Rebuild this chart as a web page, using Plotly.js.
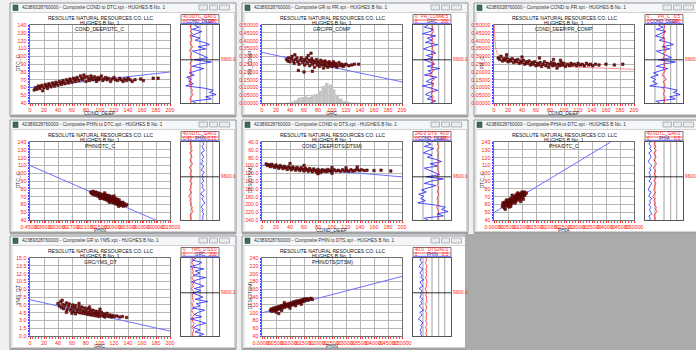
<!DOCTYPE html>
<html><head><meta charset="utf-8">
<script src="https://cdn.plot.ly/plotly-3.0.1.min.js"></script>
<style>html,body{margin:0;padding:0;background:#f0f0f0;overflow:hidden}#chart{width:696px;height:350px}</style>
</head><body><div id="chart"></div>
<script>
// ---------------- DATA ----------------
const DEPTH = [9520,9525,9530,9535,9540,9545,9550,9555,9560,9565,9570,9575,9580,9585,9590,9595,9600,9605,9610,9615,9620,9625,9630,9635,9640,9645,9650,9655,9660,9665,9670,9675,9680,9685,9690,9695,9700];
const LOG_COND_DEEP = [70,95,60,110,80,55,100,75,120,150,90,130,60,85,110,140,70,160,95,60,120,80,45,70,30,55,40,65,25,120,170,150,185,130,160,60,80];
const LOG_DTC_C = [66,64,68,65,70,63,67,69,64,66,71,65,62,68,66,64,70,67,63,69,65,66,62,68,64,60,66,63,67,65,70,68,72,66,64,67,65];
const LOG_GRC = [80,60,110,90,50,120,75,100,65,130,85,55,95,120,70,105,60,90,115,75,140,80,100,60,125,90,70,110,50,95,130,85,65,100,75,120,90];
const LOG_PR = [0.25,0.26,0.24,0.27,0.25,0.23,0.26,0.25,0.27,0.24,0.26,0.25,0.28,0.24,0.26,0.25,0.23,0.27,0.25,0.26,0.24,0.27,0.25,0.22,0.26,0.28,0.24,0.25,0.27,0.23,0.26,0.25,0.24,0.27,0.25,0.26,0.24];
const LOG_PHIN = [0.11,0.09,0.12,0.10,0.08,0.13,0.11,0.09,0.12,0.10,0.14,0.09,0.11,0.13,0.08,0.12,0.10,0.11,0.09,0.13,0.10,0.12,0.08,0.11,0.14,0.09,0.12,0.10,0.07,0.11,0.13,0.10,0.12,0.09,0.11,0.10,0.12];
const LOG_PHIA = [0.07,0.05,0.08,0.06,0.09,0.05,0.07,0.08,0.06,0.04,0.07,0.09,0.06,0.08,0.05,0.07,0.06,0.08,0.05,0.09,0.07,0.06,0.04,0.08,0.07,0.05,0.09,0.06,0.07,0.05,0.08,0.06,0.07,0.09,0.05,0.07,0.06];
const LOG_DTS = [108,112,105,110,114,107,111,109,113,106,110,115,108,112,104,110,113,107,111,109,114,106,110,112,105,109,113,108,111,107,115,110,106,112,109,108,111];
const LOG_YMS = [4.5,5.0,4.2,4.8,5.3,4.4,4.9,4.6,5.1,4.3,4.7,5.5,4.5,4.9,4.1,4.8,5.2,4.4,4.7,4.6,5.0,4.3,4.8,5.1,4.2,4.6,5.4,4.5,4.9,4.4,5.2,4.7,4.3,5.0,4.6,4.5,4.8];

const W1_COND = [6,8,10,12,14,15,17,18,20,22,24,25,27,28,30,32,34,35,37,38,40,42,44,45,47,48,50,52,54,55,57,58,60,62,64,65,67,68,70,72,74,75,77,78,80,82,84,85,87,88,90,92,94,95,97,98,100,102,104,105,108,110,112,115,117,120,122,125,128,130,133,135,138,140,143,146,150,158,162,176,183];
const W1_DTC = [57,60,58,62,59,61,63,56,60,64,62,59,65,63,61,66,64,62,67,65,63,68,66,64,69,67,65,70,68,66,71,69,67,72,70,68,73,71,69,75,72,70,76,73,68,74,71,69,75,72,70,74,71,68,73,70,72,75,69,71,73,70,72,68,71,73,70,69,72,70,68,71,69,72,70,68,70,71,69,72,72];
const W1_FIT_X = [0,200], W1_FIT_Y = [60,80];

const W2_GR = [35,37,38,40,42,43,45,46,48,50,51,53,55,56,58,60,61,62,64,65,67,68,70,71,72,74,75,76,78,79,80,82,83,84,86,87,88,89,90,91,92,94,95,96,97,98,100,101,102,104,105,107,108,110,112,114,116,118,120,124,128,132,138,52,60,72,47,66,70];
const W2_PR = [0.28,0.27,0.29,0.265,0.285,0.30,0.27,0.255,0.28,0.29,0.265,0.25,0.275,0.29,0.26,0.28,0.245,0.27,0.29,0.255,0.275,0.24,0.265,0.285,0.25,0.27,0.23,0.26,0.28,0.245,0.265,0.235,0.255,0.275,0.245,0.265,0.225,0.25,0.27,0.24,0.26,0.23,0.25,0.265,0.24,0.255,0.235,0.25,0.265,0.24,0.255,0.23,0.245,0.26,0.24,0.25,0.235,0.245,0.25,0.24,0.245,0.25,0.25,0.21,0.20,0.205,0.31,0.305,0.32];
const W2_FIT_X = [0,200], W2_FIT_Y = [0.325,0.137];
const W2_HIST_GR = [37.5,42.5,47.5,52.5,57.5,62.5,67.5,72.5,77.5,82.5,87.5,92.5,97.5,102.5,107.5,112.5,117.5,122.5,127.5,132.5];
const W2_HIST_FREQ = [0.005,0.01,0.02,0.035,0.04,0.045,0.04,0.055,0.06,0.08,0.11,0.13,0.12,0.09,0.055,0.03,0.015,0.01,0.005,0.003];

const W3_COND = [6,8,10,12,14,16,18,20,22,24,26,28,30,32,34,36,38,40,42,44,46,48,50,52,54,56,58,60,62,64,66,68,70,72,74,76,78,80,82,84,86,88,90,92,94,96,98,100,102,105,108,110,112,115,118,120,123,126,129,132,135,138,141,145,150,160,172,184,65,85,40,95,18];
const W3_PR = [0.29,0.28,0.30,0.27,0.285,0.275,0.29,0.265,0.28,0.27,0.285,0.26,0.275,0.265,0.28,0.255,0.27,0.26,0.275,0.25,0.265,0.255,0.27,0.245,0.26,0.25,0.265,0.24,0.255,0.245,0.26,0.235,0.25,0.265,0.24,0.255,0.23,0.25,0.26,0.24,0.255,0.245,0.225,0.25,0.24,0.26,0.245,0.255,0.235,0.25,0.24,0.255,0.245,0.25,0.24,0.255,0.245,0.25,0.24,0.255,0.245,0.25,0.24,0.25,0.245,0.25,0.245,0.25,0.29,0.28,0.295,0.275,0.31];
const W3_FIT_X = [0.3,1,2,3,5,8,10,15,20,30,40,60,80,100,120,140,160,180,200];
const W3_FIT_Y = [0.50,0.42,0.37,0.34,0.315,0.30,0.29,0.28,0.272,0.262,0.255,0.246,0.24,0.235,0.231,0.227,0.223,0.22,0.217];

const W4_PHIN = [0.19,0.185,0.18,0.178,0.175,0.17,0.168,0.165,0.16,0.158,0.155,0.152,0.15,0.147,0.145,0.142,0.14,0.138,0.135,0.133,0.13,0.128,0.126,0.124,0.122,0.12,0.118,0.116,0.114,0.112,0.11,0.108,0.106,0.104,0.102,0.1,0.098,0.096,0.094,0.092,0.09,0.088,0.086,0.084,0.082,0.08,0.078,0.076,0.074,0.072,0.07,0.068,0.065,0.062,0.06,0.057,0.055,0.052,0.05,0.045,0.04,0.035,0.15,0.13,0.11,0.09,0.07];
const W4_DTC = [76,74,77,73,75,72,76,74,71,75,73,70,74,72,69,73,71,68,72,70,67,73,69,71,66,70,68,72,65,69,67,71,64,68,66,70,63,67,65,69,62,66,64,68,61,65,63,67,60,64,62,66,61,63,59,62,60,63,58,61,59,60,68,75,63,71,58];
const W4_FIT_X = [0.45,-0.09], W4_FIT_Y = [110,40];

const W5_COND = [6,8,10,12,14,16,18,20,22,24,26,28,30,32,34,36,38,40,42,44,46,48,50,52,54,56,58,60,62,64,66,68,70,72,74,76,78,80,82,84,86,88,90,92,94,96,98,100,103,106,109,112,115,118,121,124,127,130,133,136,139,142,146,150,160,170,184,40,60,100,120,136,80,100];
const W5_DTS = [96,100,98,103,97,101,105,99,103,107,100,104,108,102,106,110,103,107,111,104,108,112,105,109,113,106,110,114,107,111,115,108,112,116,109,113,117,110,114,118,111,115,112,116,110,114,112,115,111,114,112,115,111,114,112,115,111,114,112,110,113,111,113,112,113,112,114,95,100,105,106,104,121,120];
const W5_FIT_X = [0,200], W5_FIT_Y = [99,129];

const W6_PHIA = [0.03,0.032,0.034,0.036,0.038,0.04,0.042,0.044,0.046,0.048,0.05,0.052,0.054,0.056,0.058,0.06,0.062,0.064,0.066,0.068,0.07,0.072,0.074,0.076,0.078,0.08,0.082,0.084,0.086,0.088,0.09,0.092,0.094,0.096,0.098,0.1,0.102,0.104,0.106,0.108,0.11,0.112,0.115,0.045,0.055,0.065,0.075,0.085,0.095,0.105,0.04,0.06,0.08,0.1];
const W6_DTC = [58,62,60,56,63,59,61,65,58,62,64,60,66,62,64,68,61,65,67,63,69,65,67,71,64,68,70,66,72,68,70,74,67,71,73,69,75,71,73,76,72,74,75,66,57,72,62,75,64,67,54,58,73,76];
const W6_FIT_X = [0,0.417], W6_FIT_Y = [50,140];

const W7_GR = [40,42,44,45,47,48,50,52,53,55,56,58,60,61,62,64,65,67,68,70,71,72,74,75,76,78,79,80,82,83,84,86,87,88,90,91,92,94,95,96,98,99,100,102,104,105,107,108,110,112,114,116,118,120,124,128,132,138,46,52,60,70,85,100,65];
const W7_YMS = [6.3,5.8,6.6,5.5,6.1,5.3,5.9,6.4,5.1,5.7,6.2,5.0,5.5,6.0,4.8,5.4,5.9,4.7,5.2,5.7,4.5,5.1,5.6,4.4,4.9,5.4,4.3,4.8,5.3,4.2,4.6,5.1,4.1,4.5,5.0,4.0,4.4,4.8,3.9,4.3,4.7,3.8,4.2,4.6,3.9,4.3,3.7,4.1,4.4,3.8,4.1,3.7,4.0,3.8,3.9,3.7,3.8,3.6,6.9,4.6,4.4,6.3,5.6,5.2,4.3];
const W7_FIT_X = [0,200], W7_FIT_Y = [7.0,1.0];

const W8_PHIN = [0.03,0.033,0.036,0.039,0.042,0.045,0.048,0.051,0.054,0.057,0.06,0.063,0.066,0.069,0.072,0.075,0.078,0.081,0.084,0.087,0.09,0.093,0.096,0.099,0.102,0.105,0.108,0.111,0.114,0.117,0.12,0.123,0.126,0.129,0.132,0.135,0.138,0.141,0.144,0.147,0.15,0.153,0.156,0.16,0.165,0.17,0.175,0.18,0.05,0.07,0.1,0.12,0.14,0.08,0.06];
const W8_DTS = [106,110,104,108,112,106,110,114,108,112,116,110,114,118,112,116,120,114,118,122,116,120,124,118,122,126,120,124,128,122,126,130,124,128,131,126,130,133,128,132,135,130,134,136,132,135,137,134,102,106,112,118,122,126,98];
const W8_FIT_X = [0,0.5], W8_FIT_Y = [100,193];

// tick labels
const T_0_200 = [0,20,40,60,80,100,120,140,160,180,200];
const T_0_200_TXT = ["0","20","40","60","80","100","120","140","160","180","200"];
const T_DT = [40,50,60,70,80,90,100,110,120,130,140];
const T_DT_TXT = ["40","50","60","70","80","90","100","110","120","130","140"];
const T_PR = [0,0.05,0.1,0.15,0.2,0.25,0.3,0.35,0.4,0.45,0.5];
const T_PR_TXT = ["0.00000","0.05000","0.10000","0.15000","0.20000","0.25000","0.30000","0.35000","0.40000","0.45000","0.50000"];
const T_PHIN = [0.45,0.39,0.33,0.27,0.21,0.15,0.09,0.03,-0.03,-0.09,-0.15];
const T_PHIN_TXT = ["0.45000","0.39000","0.33000","0.27000","0.21000","0.15000","0.09000","0.03000","-0.03000","-0.09000","-0.15000"];
const T_POR = [0,0.05,0.1,0.15,0.2,0.25,0.3,0.35,0.4,0.45,0.5];
const T_POR_TXT = ["0.00000","0.05000","0.10000","0.15000","0.20000","0.25000","0.30000","0.35000","0.40000","0.45000","0.50000"];
const T_DTS = [40,60,80,100,120,140,160,180,200,220,240];
const T_DTS_TXT1 = ["40.0","60.0","80.0","100.0","120.0","140.0","160.0","180.0","200.0","220.0","240.0"];
const T_DTS_TXT2 = ["40","60","80","100","120","140","160","180","200","220","240"];
const T_YMS = [0,1.5,3,4.5,6,7.5,9,10.5,12,13.5,15];
const T_YMS_TXT = ["0.0","1.5","3.0","4.5","6.0","7.5","9.0","10.5","12.0","13.5","15.0"];

// ---------------- LAYOUT / STYLE CONFIG ----------------
const WIDTH = 696, HEIGHT = 350;
const COLS = [0,232,464], ROWS = [0,117,233];
const FONT = '"Liberation Sans", Arial, sans-serif';
const px = x => x / WIDTH;
const py = y => 1 - y / HEIGHT;

const WINDOWS = [
 {col:0,row:0,title:'42389328760000 - Composite COND to DTC.xpt - HUGHES B No. 1',sub:'COND_DEEP/DTC_C',xt:'COND_DEEP',yt:'DTC_C',
  x:W1_COND,y:W1_DTC,fx:W1_FIT_X,fy:W1_FIT_Y,fitColor:'#6f6fff',
  xr:[0,200],xv:T_0_200,xl:T_0_200_TXT,xm:4,yr:[40,140],yv:T_DT,yl:T_DT_TXT,ym:2,
  blue:{v:LOG_COND_DEEP,r:[0,200],h:['0','COND_DEEP','200']},red:{v:LOG_DTC_C,r:[40,140],h:['40.0','DTC_C','140.0']}},
 {col:1,row:0,title:'42389328760000 - Composite GR to PR.xpt - HUGHES B No. 1',sub:'GRC/PR_COMP',xt:'GRC',yt:'PR_COMP',
  x:W2_GR,y:W2_PR,fx:W2_FIT_X,fy:W2_FIT_Y,fitColor:'#6f6fff',hist:true,
  xr:[0,200],xv:T_0_200,xl:T_0_200_TXT,xm:4,yr:[0,0.5],yv:T_PR,yl:T_PR_TXT,ym:0.01,
  blue:{v:LOG_GRC,r:[0,200],h:['0','GRC','200']},red:{v:LOG_PR,r:[0,0.5],h:['0','PR_COMP','0.5']}},
 {col:2,row:0,title:'42389328760000 - Composite COND to PR.xpt - HUGHES B No. 1',sub:'COND_DEEP/PR_COMP',xt:'COND_DEEP',yt:'PR_C',
  x:W3_COND,y:W3_PR,fx:W3_FIT_X,fy:W3_FIT_Y,fitColor:'#ff8c8c',
  xr:[0,200],xv:T_0_200,xl:T_0_200_TXT,xm:4,yr:[0,0.5],yv:T_PR,yl:T_PR_TXT,ym:0.01,
  blue:{v:LOG_COND_DEEP,r:[0,200],h:['0','COND_DEEP','200']},red:{v:LOG_PR,r:[0,0.5],h:['0','PR_C','0.5']}},
 {col:0,row:1,title:'42389328760000 - Composite PHIN to DTC.xpt - HUGHES B No. 1',sub:'PHIN/DTC_C',xt:'PHIN',yt:'DTC_C',
  x:W4_PHIN,y:W4_DTC,fx:W4_FIT_X,fy:W4_FIT_Y,fitColor:'#6f6fff',
  xr:[0.45,-0.15],xv:T_PHIN,xl:T_PHIN_TXT,xm:0.012,yr:[40,140],yv:T_DT,yl:T_DT_TXT,ym:2,
  blue:{v:LOG_PHIN,r:[0.45,-0.15],h:['0.45','PHIN','-0.15']},red:{v:LOG_DTC_C,r:[40,140],h:['40.0','DTC_C','140.0']}},
 {col:1,row:1,title:'42389328760000 - Composite COND to DTS.xpt - HUGHES B No. 1',sub:'COND_DEEP/DTS(DTSM)',xt:'COND_DEEP',yt:'DTS(DTSM)',
  x:W5_COND,y:W5_DTS,fx:W5_FIT_X,fy:W5_FIT_Y,fitColor:'#6f6fff',
  xr:[0,200],xv:T_0_200,xl:T_0_200_TXT,xm:4,yr:[240,40],yv:T_DTS,yl:T_DTS_TXT1,ym:4,
  blue:{v:LOG_COND_DEEP,r:[0,200],h:['0','COND_DEEP','200']},red:{v:LOG_DTS,r:[240,40],h:['240.0','DTS','40.0']}},
 {col:2,row:1,title:'42389328760000 - Composite PHIA to DTC.xpt - HUGHES B No. 1',sub:'PHIA/DTC_C',xt:'PHIA',yt:'DTC_C',
  x:W6_PHIA,y:W6_DTC,fx:W6_FIT_X,fy:W6_FIT_Y,fitColor:'#6f6fff',
  xr:[0,0.5],xv:T_POR,xl:T_POR_TXT,xm:0.01,yr:[40,140],yv:T_DT,yl:T_DT_TXT,ym:2,
  blue:{v:LOG_PHIA,r:[0,0.5],h:['0','PHIA','0.5']},red:{v:LOG_DTC_C,r:[40,140],h:['40.0','DTC_C','140.0']}},
 {col:0,row:2,title:'42389328760000 - Composite GR to YMS.xpt - HUGHES B No. 1',sub:'GRC/YMS_DT',xt:'GRC',yt:'YMS_DT',
  x:W7_GR,y:W7_YMS,fx:W7_FIT_X,fy:W7_FIT_Y,fitColor:'#6f6fff',
  xr:[0,200],xv:T_0_200,xl:T_0_200_TXT,xm:4,yr:[0,15],yv:T_YMS,yl:T_YMS_TXT,ym:0.3,
  blue:{v:LOG_GRC,r:[0,200],h:['0','GRC','200']},red:{v:LOG_YMS,r:[0,15],h:['0','YMS_DT','15.0']}},
 {col:1,row:2,title:'42389328760000 - Composite PHIN to DTS.xpt - HUGHES B No. 1',sub:'PHIN/DTS(DTSM)',xt:'PHIN',yt:'DTS(DTSM)',
  x:W8_PHIN,y:W8_DTS,fx:W8_FIT_X,fy:W8_FIT_Y,fitColor:'#6f6fff',
  xr:[0,0.5],xv:T_POR,xl:T_POR_TXT,xm:0.01,yr:[40,240],yv:T_DTS,yl:T_DTS_TXT2,ym:4,
  blue:{v:LOG_PHIN,r:[0,0.5],h:['0','PHIN','0.5']},red:{v:LOG_DTS,r:[40,240],h:['40.0','DTS','240.0']}}
];

// ---------------- BUILD ----------------
const data = [], shapes = [], annotations = [];
const layout = {width:WIDTH,height:HEIGHT,margin:{l:0,r:0,t:0,b:0},paper_bgcolor:'#f0f0f0',plot_bgcolor:'rgba(0,0,0,0)',
  showlegend:false,font:{family:FONT,size:5},shapes,annotations,hovermode:false};

const an = n => (n===1?'':String(n));
function rect(x0,y0,x1,y1,fill,line,lw){shapes.push({type:'rect',xref:'paper',yref:'paper',x0:px(x0),x1:px(x1),y0:py(y1),y1:py(y0),
  fillcolor:fill,line:{color:line||'rgba(0,0,0,0)',width:line?(lw||1):0},layer:'below'});}
function hline(x0,x1,y,color,w){shapes.push({type:'line',xref:'paper',yref:'paper',x0:px(x0),x1:px(x1),y0:py(y),y1:py(y),line:{color:color,width:w},layer:'above'});}
function txt(x,y,t,size,color,xanchor,extra){annotations.push(Object.assign({xref:'paper',yref:'paper',x:px(x),y:py(y),text:t,showarrow:false,
  xanchor:xanchor||'center',yanchor:'middle',borderpad:0,font:{family:FONT,size:size,color:color}},extra||{}));}

WINDOWS.forEach((w,i)=>{
  const n = i+1, ox = COLS[w.col], oy = ROWS[w.row];
  // window chrome
  rect(ox+10,oy+3,ox+236,oy+116,'#f5f6f8','#8d939b',1);
  rect(ox+12,oy+12.5,ox+234.5,oy+114.5,'#ffffff','#b8b8b8',0.6);
  rect(ox+10,oy+115,ox+236,oy+117.5,'#a2a2a2');
  rect(ox+13,oy+5,ox+18,oy+10.5,'#3b6f58','#1d3d2e',0.5);
  [[199,207.5],[209.5,217.5],[219.5,229.5]].forEach(b=>rect(ox+b[0],oy+5,ox+b[1],oy+10,'#e9ebef','#8a8f96',0.6));
  txt(ox+21,oy+7.6,w.title,4.7,'#333333','left');

  // crossplot axes
  const xa='x'+an(n), ya='y'+an(n);
  layout['xaxis'+an(n)] = {domain:[px(ox+30),px(ox+170)],anchor:ya,range:w.xr,tickmode:'array',tickvals:w.xv,ticktext:w.xl,tickangle:0,
    tickfont:{family:FONT,size:5.3,color:'#ff2020'},ticks:'outside',ticklen:1.5,tickcolor:'#ff2020',showgrid:true,gridcolor:'#b6b6b6',gridwidth:1,
    zeroline:false,showline:true,mirror:true,linecolor:'#707070',linewidth:1,fixedrange:true,
    minor:{ticks:'outside',ticklen:1.2,tickcolor:'#ff5050',dtick:w.xm,tick0:0,showgrid:false}};
  layout['yaxis'+an(n)] = {domain:[py(oy+103.3),py(oy+25)],anchor:xa,range:w.yr,tickmode:'array',tickvals:w.yv,ticktext:w.yl,
    tickfont:{family:FONT,size:5.3,color:'#ff2020'},ticks:'outside',ticklen:1.5,tickcolor:'#3030ff',showgrid:true,gridcolor:'#b6b6b6',gridwidth:1,
    zeroline:false,showline:true,mirror:true,linecolor:'#707070',linewidth:1,fixedrange:true,
    minor:{ticks:'outside',ticklen:1.2,tickcolor:'#4040ff',dtick:w.ym,tick0:0,showgrid:false}};
  if(w.hist){
    data.push({type:'bar',x:W2_HIST_GR,y:W2_HIST_FREQ,width:5,xaxis:xa,yaxis:ya,marker:{color:'#c4c4c4',line:{width:0}}});
  }
  data.push({type:'scatter',mode:'lines',x:w.fx,y:w.fy,xaxis:xa,yaxis:ya,line:{color:w.fitColor,width:1}});
  data.push({type:'scatter',mode:'markers',x:w.x,y:w.y,xaxis:xa,yaxis:ya,
    marker:{symbol:'square',size:2.5,color:'#8e1010',line:{color:'#2a0000',width:0.5}}});

  // titles
  txt(ox+100,oy+18.3,'RESOLUTE NATURAL RESOURCES CO. LLC',5,'#111111');
  txt(ox+100,oy+23.4,'HUGHES B No. 1',5,'#111111');
  txt(ox+100,oy+28.8,w.sub,5,'#111111');
  txt(ox+100,oy+112.6,w.xt,5,'#333333');
  txt(ox+17.5,oy+63,w.yt,5,'#333333','center',{textangle:-90});

  // log track
  const tn = 8+n, rn = 16+n;
  const tx='x'+tn, ty='y'+tn, rx='x'+rn;
  layout['xaxis'+tn] = {domain:[px(ox+181),px(ox+219)],anchor:ty,range:w.blue.r,showticklabels:false,ticks:'',showgrid:false,zeroline:false,
    showline:true,mirror:true,linecolor:'#555555',linewidth:1,fixedrange:true};
  layout['xaxis'+rn] = {overlaying:tx,anchor:ty,range:w.red.r,visible:false,showgrid:false,zeroline:false,fixedrange:true};
  layout['yaxis'+tn] = {domain:[py(oy+103.3),py(oy+25)],anchor:tx,range:[9700,9520],showticklabels:false,ticks:'',showgrid:false,zeroline:false,
    showline:true,mirror:true,linecolor:'#555555',linewidth:1,fixedrange:true};
  [0.263,0.5,0.676,0.834].forEach(f=>shapes.push({type:'line',xref:tx+' domain',yref:ty+' domain',x0:f,x1:f,y0:0,y1:1,line:{color:'#8a8a8a',width:0.8},layer:'below'}));
  shapes.push({type:'line',xref:tx+' domain',yref:ty,x0:0,x1:1,y0:9600,y1:9600,line:{color:'#000000',width:0.8}});
  data.push({type:'scatter',mode:'lines',x:w.blue.v,y:DEPTH,xaxis:tx,yaxis:ty,line:{color:'#1f1fff',width:0.8}});
  data.push({type:'scatter',mode:'lines',x:w.red.v,y:DEPTH,xaxis:rx,yaxis:ty,line:{color:'#ff1a1a',width:0.8}});
  annotations.push({xref:'paper',yref:ty,x:px(ox+220),y:9600,text:'9600.0',showarrow:false,xanchor:'left',yanchor:'middle',borderpad:0,
    font:{family:FONT,size:4.8,color:'#ff2020'}});

  // track header
  rect(ox+181,oy+14.5,ox+219,oy+24.5,'#ffffff','#555555',0.8);
  hline(ox+181.5,ox+218.5,oy+20,'#ff3030',0.8);
  hline(ox+181.5,ox+218.5,oy+23.3,'#3030ff',0.8);
  txt(ox+182,oy+16.9,w.red.h[0],4.5,'#ff2020','left');
  txt(ox+200,oy+16.9,w.red.h[1],4.5,'#ff2020','center');
  txt(ox+218,oy+16.9,w.red.h[2],4.5,'#ff2020','right');
  txt(ox+182,oy+21.4,w.blue.h[0],4.5,'#ff2020','left');
  txt(ox+200,oy+21.4,w.blue.h[1],4.5,'#2a2a9a','center');
  txt(ox+218,oy+21.4,w.blue.h[2],4.5,'#ff2020','right');
});

// empty MDI workspace at bottom right
rect(465,234,696,350,'#ababab');

Plotly.newPlot('chart',data,layout,{staticPlot:true,displayModeBar:false});
</script>
</body></html>
